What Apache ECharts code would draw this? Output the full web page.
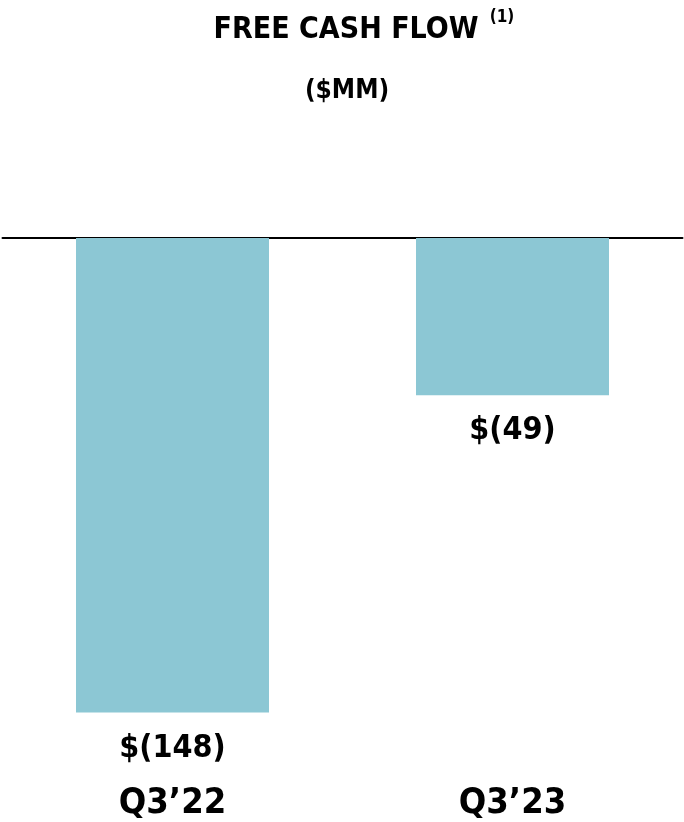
<!DOCTYPE html>
<html><head><meta charset="utf-8">
<script src="https://cdn.jsdelivr.net/npm/echarts@6/dist/echarts.min.js"></script>
<style>html,body{margin:0;padding:0;background:#fff}#c{width:684px;height:822px}</style>
</head><body><div id="c"></div>
<script>
const categories = ["Q3\u201922", "Q3\u201923"];
const values = [-148, -49];
const valueLabels = ["$(148)", "$(49)"];
const titleText = "FREE CASH FLOW";
const subtitleText = "($MM)";
const footnoteText = "(1)";

const FONT = "'DejaVu Sans Condensed','Liberation Sans Narrow',sans-serif";
const chart = echarts.init(document.getElementById('c'));
chart.setOption({
  animation: false,
  backgroundColor: '#fff',
  title: [
    {text: titleText, left: 341, top: 10, textAlign: 'center',
     textStyle: {fontFamily: "'DejaVu Sans Condensed'", fontWeight: 'bold', fontSize: 30, color: '#000'}},
    {text: footnoteText, left: 497, top: 4, textAlign: 'center',
     textStyle: {fontFamily: "'DejaVu Sans Condensed'", fontWeight: 'bold', fontSize: 17, color: '#000'}},
    {text: subtitleText, left: 342, top: 73, textAlign: 'center',
     textStyle: {fontFamily: "'DejaVu Sans Condensed'", fontWeight: 'bold', fontSize: 26, color: '#000'}}
  ],
  grid: {left: 2.5, right: 1.5, top: 238, bottom: 102.5, containLabel: false},
  xAxis: [
    {type: 'category', data: categories, axisLine: {onZero: true, lineStyle: {color: '#000', width: 2}},
     axisTick: {show: false}, axisLabel: {show: false}},
    {type: 'category', data: categories, position: 'bottom', axisLine: {show: false},
     axisTick: {show: false},
     axisLabel: {show: true, margin: 67, fontFamily: FONT, fontWeight: 'bold', fontSize: 36, color: '#000'}}
  ],
  yAxis: {type: 'value', min: -150, max: 0, show: false, splitLine: {show: false}},
  series: [{
    type: 'bar', data: values, barWidth: 193, xAxisIndex: 0,
    itemStyle: {color: '#8CC7D4'},
    label: {show: true, position: 'bottom', distance: 20,
      formatter: p => valueLabels[p.dataIndex],
      fontFamily: FONT, fontWeight: 'bold', fontSize: 32, color: '#000'}
  }]
});
</script></body></html>
